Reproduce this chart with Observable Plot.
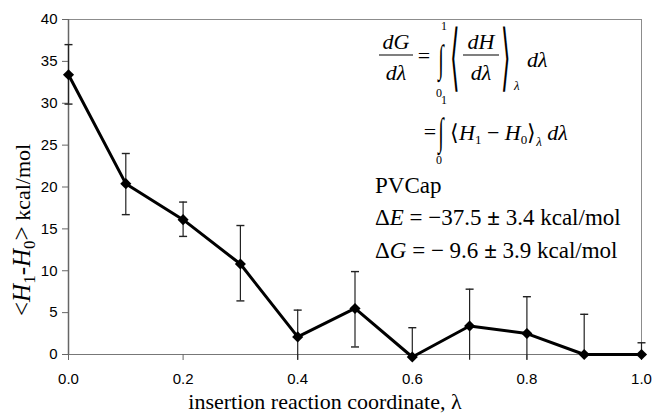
<!DOCTYPE html>
<html>
<head>
<meta charset="utf-8">
<script src="https://cdn.jsdelivr.net/npm/d3@7"></script>
<script src="https://cdn.jsdelivr.net/npm/@observablehq/plot@0.6"></script>
<style>
  html, body { margin: 0; padding: 0; background: #fff; }
  #chart { width: 652px; height: 413px; }
</style>
</head>
<body>
<div id="chart"></div>
<script>
// ---- data ----
const lambda   = [0.0, 0.1, 0.2, 0.3, 0.4, 0.5, 0.6, 0.7, 0.8, 0.9, 1.0];
const meanDH   = [33.4, 20.4, 16.1, 10.8, 2.1, 5.5, -0.3, 3.4, 2.5, 0.0, 0.0];
const errHigh  = [37.0, 24.0, 18.2, 15.4, 5.3, 9.9, 3.2, 7.8, 6.9, 4.8, 1.4];
const errLow   = [29.9, 16.7, 14.1, 6.4, -0.7, 0.9, null, -0.7, -0.7, null, null];
const xTicks   = [0.0, 0.2, 0.4, 0.6, 0.8, 1.0];
const yTicks   = [0, 5, 10, 15, 20, 25, 30, 35, 40];

const data = lambda.map((x, i) => ({x, y: meanDH[i], hi: errHigh[i], lo: errLow[i]}));

const cap = {draw(ctx) { ctx.moveTo(-4, 0); ctx.lineTo(4, 0); }};

const chart = Plot.plot({
  width: 652,
  height: 413,
  marginLeft: 68,
  marginRight: 11,
  marginTop: 19,
  marginBottom: 59,
  style: {fontFamily: "'Liberation Sans', Arial, sans-serif", fontSize: "15px", background: "#fff", overflow: "visible"},
  x: {domain: [0, 1]},
  y: {domain: [0, 40]},
  marks: [
    Plot.ruleY([40], {stroke: "#8c8c8c", strokeWidth: 1}),
    Plot.ruleX([1], {stroke: "#8c8c8c", strokeWidth: 1}),
    Plot.ruleY([0], {stroke: "#777", strokeWidth: 1}),
    Plot.ruleX([0], {stroke: "#666", strokeWidth: 1.5}),
    Plot.axisY({ticks: yTicks, tickSize: 6, tickPadding: 5, stroke: "#666", fontSize: 15, label: null}),
    Plot.axisX({ticks: xTicks, tickFormat: d3.format(".1f"), tickSize: 6, tickPadding: 13, stroke: "#666", fontSize: 15, label: null}),
    Plot.ruleX(data, {x: "x", y1: d => d.lo ?? d.y, y2: "hi", stroke: "#222", strokeWidth: 1.2}),
    Plot.dot(data, {x: "x", y: "hi", symbol: cap, stroke: "#222", strokeWidth: 1.4, fill: "none"}),
    Plot.dot(data.filter(d => d.lo != null && d.lo >= 0), {x: "x", y: "lo", symbol: cap, stroke: "#222", strokeWidth: 1.4, fill: "none"}),
    Plot.line(data, {x: "x", y: "y", stroke: "#000", strokeWidth: 3, strokeLinejoin: "miter"}),
    Plot.dot(data, {x: "x", y: "y", symbol: "diamond2", r: 5, fill: "#000", stroke: "none"})
  ]
});

document.getElementById("chart").appendChild(chart);

// ---- axis titles & annotation (text) ----
const svg = d3.select(chart);
const serif = "'Liberation Serif', 'Times New Roman', serif";

// x axis title
svg.append("text")
  .attr("x", 325).attr("y", 409)
  .attr("text-anchor", "middle")
  .style("font-family", serif).style("font-size", "22px").attr("fill", "#000")
  .text("insertion reaction coordinate, λ");

// y axis title
const yt = svg.append("text")
  .attr("transform", "translate(30,316) rotate(-90)")
  .attr("text-anchor", "start")
  .style("font-family", serif).style("font-size", "25px").attr("fill", "#000");
yt.append("tspan").text("<");
yt.append("tspan").style("font-style", "italic").text("H");
yt.append("tspan").attr("dy", 5).style("font-size", "17px").text("1");
yt.append("tspan").attr("dy", -5).text("-");
yt.append("tspan").style("font-style", "italic").text("H");
yt.append("tspan").attr("dy", 5).style("font-size", "17px").text("0");
yt.append("tspan").attr("dy", -5).text(">");
yt.append("tspan").style("font-size", "22px").text(" kcal/mol");

const g = svg.append("g").style("font-family", serif).attr("fill", "#000").attr("text-anchor", "start");
function t(x, y, s, size, opts = {}) {
  const e = g.append("text").attr("x", x).attr("y", y).style("font-size", size + "px")
    .attr("text-anchor", opts.anchor || "start");
  if (opts.italic) e.style("font-style", "italic");
  if (opts.transform) e.attr("transform", opts.transform).attr("x", null).attr("y", null);
  e.text(s);
  return e;
}
function bar(x1, x2, y) {
  g.append("line").attr("x1", x1).attr("x2", x2).attr("y1", y).attr("y2", y)
    .attr("stroke", "#000").attr("stroke-width", 1.2);
}
// line 1
t(396, 49, "dG", 22, {anchor: "middle", italic: true});
bar(379, 413, 55);
t(396, 80, "dλ", 22, {anchor: "middle", italic: true});
t(424, 63, "=", 22, {anchor: "middle"});
t(0, 0, "∫", 26, {anchor: "middle", transform: "translate(441,72) scale(0.75,1.5)"});
t(444, 30, "1", 12, {anchor: "middle"});
t(439, 97, "0", 12, {anchor: "middle"});
t(0, 0, "⟨", 22, {anchor: "middle", transform: "translate(455,82) scale(1.1,3.3)"});
t(481, 49, "dH", 22, {anchor: "middle", italic: true});
bar(463, 499, 55);
t(481, 80, "dλ", 22, {anchor: "middle", italic: true});
t(0, 0, "⟩", 22, {anchor: "middle", transform: "translate(506,82) scale(1.1,3.3)"});
t(514, 90, "λ", 13, {italic: true});
t(527, 67, "dλ", 22, {italic: true});
// line 2
t(430, 139, "=", 22, {anchor: "middle"});
t(0, 0, "∫", 26, {anchor: "middle", transform: "translate(441,145) scale(0.75,1.5)"});
t(444, 104, "1", 12, {anchor: "middle"});
t(439, 164, "0", 12, {anchor: "middle"});
const l2 = g.append("text").attr("x", 450).attr("y", 140).style("font-size", "22px").attr("text-anchor", "start");
l2.append("tspan").text("⟨");
l2.append("tspan").style("font-style", "italic").text("H");
l2.append("tspan").attr("dy", 4).style("font-size", "13px").text("1");
l2.append("tspan").attr("dy", -4).text(" − ");
l2.append("tspan").style("font-style", "italic").text("H");
l2.append("tspan").attr("dy", 4).style("font-size", "13px").text("0");
l2.append("tspan").attr("dy", -4).text("⟩");
l2.append("tspan").attr("dy", 6).style("font-size", "13px").style("font-style", "italic").text("λ");
l2.append("tspan").attr("dy", -6).style("font-style", "italic").text(" dλ");

// PVCap block
t(375, 193, "PVCap", 23);
const e1 = g.append("text").attr("x", 375).attr("y", 225).style("font-size", "23px").attr("text-anchor", "start");
e1.append("tspan").text("Δ");
e1.append("tspan").style("font-style", "italic").text("E");
e1.append("tspan").text(" = −37.5 ");
e1.append("tspan").style("font-weight", "bold").text("±");
e1.append("tspan").text(" 3.4 kcal/mol");
const e2 = g.append("text").attr("x", 375).attr("y", 258).style("font-size", "23px").attr("text-anchor", "start");
e2.append("tspan").text("Δ");
e2.append("tspan").style("font-style", "italic").text("G");
e2.append("tspan").text(" = − 9.6 ");
e2.append("tspan").style("font-weight", "bold").text("±");
e2.append("tspan").text(" 3.9 kcal/mol");
</script>
</body>
</html>
